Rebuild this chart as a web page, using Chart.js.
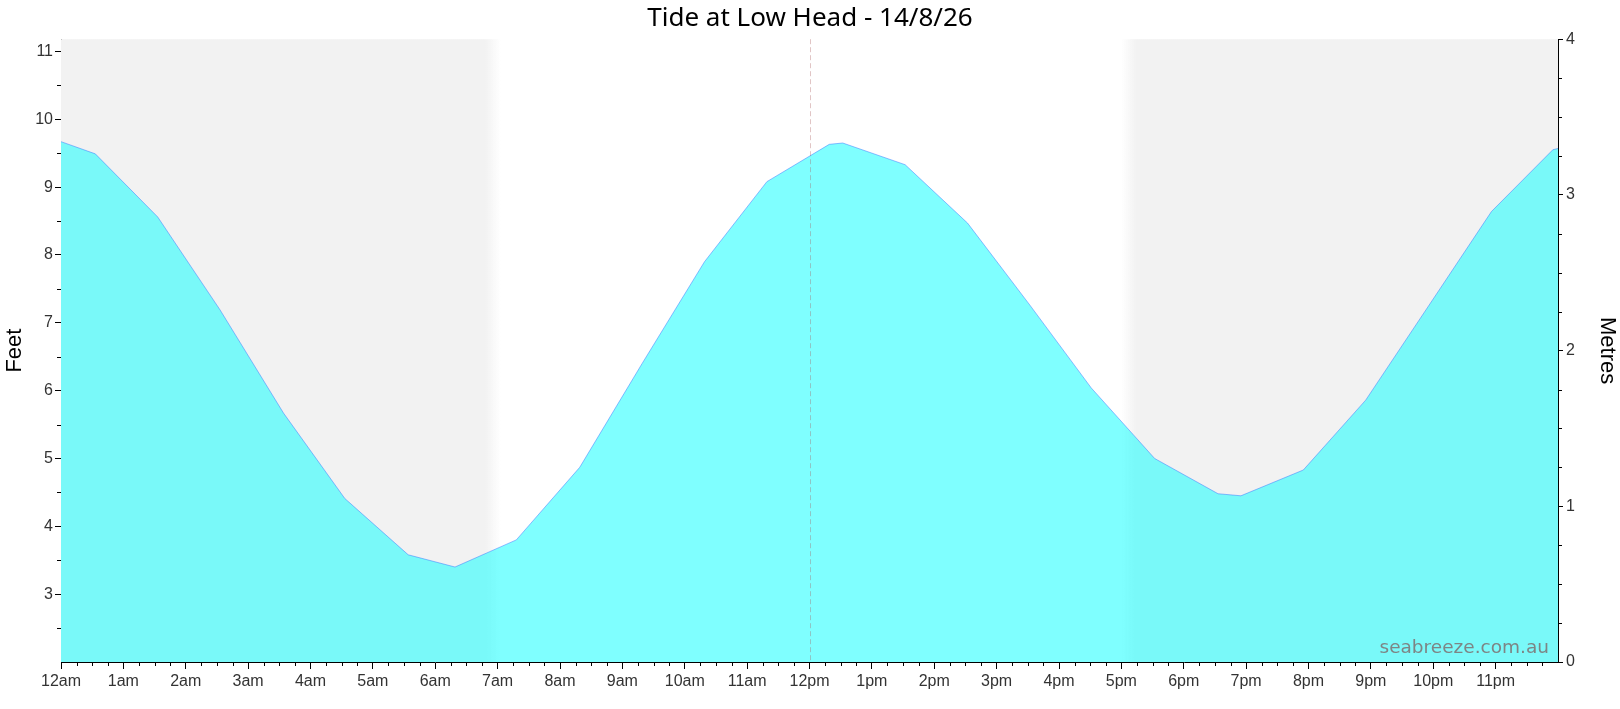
<!DOCTYPE html>
<html>
<head>
<meta charset="utf-8">
<title>Tide at Low Head</title>
<script src="https://cdn.jsdelivr.net/npm/chart.js@4.4.1/dist/chart.umd.min.js"></script>
<style>
  html, body { margin: 0; padding: 0; background: #fff; }
  #wrap { width: 1620px; height: 709px; position: relative; }
</style>
</head>
<body>
<div id="wrap"><canvas id="tide-chart"></canvas></div>
<script>
const chartTitle = "Tide at Low Head - 14/8/26";

// tide curve (local time, height in feet)
const tideTimes = [
  "0:00", "0:33", "1:33", "2:33", "3:34", "4:33", "5:34", "6:19",
  "7:18", "8:19", "9:19", "10:19", "11:19", "12:19", "12:32", "13:32",
  "14:32", "15:32", "16:31", "17:32", "18:33", "18:55", "19:55", "20:55",
  "21:56", "22:56", "23:55", "24:00"
];
const tideFeet = [
  9.67, 9.49, 8.56, 7.19, 5.67, 4.41, 3.58, 3.40,
  3.80, 4.87, 6.40, 7.90, 9.08, 9.63, 9.65, 9.33,
  8.47, 7.26, 6.04, 5.00, 4.48, 4.45, 4.83, 5.86,
  7.26, 8.64, 9.55, 9.57
];

const hourLabels = [
  "12am", "1am", "2am", "3am", "4am", "5am", "6am", "7am", "8am", "9am", "10am", "11am",
  "12pm", "1pm", "2pm", "3pm", "4pm", "5pm", "6pm", "7pm", "8pm", "9pm", "10pm", "11pm"
];
const feetTicks = [3, 4, 5, 6, 7, 8, 9, 10, 11];
const metreTicks = [0, 1, 2, 3, 4];

// darkness: [solid until, faded out by] in the morning, [fade from, solid from] at night
const morningDark = ["6:48", "7:03"];
const eveningDark = ["17:00", "17:14"];
const nowTime = "12:00";

function toHours(t) {
  const p = t.split(":");
  return +p[0] + (+p[1]) / 60;
}

const tickFont = { family: "'Liberation Sans', Arial, sans-serif", size: 16 };
const titleFont = { family: "'Noto Sans', 'Liberation Sans', sans-serif", size: 26, weight: "normal" };
const axisTitleFont = { family: "'Liberation Sans', Arial, sans-serif", size: 22, weight: "normal" };

const NIGHT = "#f2f2f2";

const nightShade = {
  id: "nightShade",
  beforeDatasetsDraw(chart) {
    const { ctx, chartArea: a, scales: { x } } = chart;
    const m0 = x.getPixelForValue(toHours(morningDark[0]));
    const m1 = x.getPixelForValue(toHours(morningDark[1]));
    const e0 = x.getPixelForValue(toHours(eveningDark[0]));
    const e1 = x.getPixelForValue(toHours(eveningDark[1]));
    ctx.save();
    let g = ctx.createLinearGradient(a.left, 0, m1, 0);
    g.addColorStop(0, NIGHT);
    g.addColorStop((m0 - a.left) / (m1 - a.left), NIGHT);
    g.addColorStop(1, "rgba(242,242,242,0)");
    ctx.fillStyle = g;
    ctx.fillRect(a.left, a.top, m1 - a.left, a.bottom - a.top);
    g = ctx.createLinearGradient(e0, 0, a.right, 0);
    g.addColorStop(0, "rgba(242,242,242,0)");
    g.addColorStop((e1 - e0) / (a.right - e0), NIGHT);
    g.addColorStop(1, NIGHT);
    ctx.fillStyle = g;
    ctx.fillRect(e0, a.top, a.right - e0, a.bottom - a.top);
    ctx.restore();
  }
};

const extras = {
  id: "extras",
  afterDatasetsDraw(chart) {
    const { ctx, chartArea: a, scales: { x } } = chart;
    // current time marker
    const nx = Math.round(x.getPixelForValue(toHours(nowTime))) + 0.5;
    ctx.save();
    ctx.strokeStyle = "rgba(170,90,90,0.35)";
    ctx.lineWidth = 1;
    ctx.setLineDash([5, 3]);
    ctx.beginPath();
    ctx.moveTo(nx, a.top);
    ctx.lineTo(nx, a.bottom);
    ctx.stroke();
    ctx.restore();

    // watermark
    ctx.save();
    ctx.font = "18.5px 'DejaVu Sans', Verdana, sans-serif";
    ctx.fillStyle = "#7d8585";
    ctx.textAlign = "right";
    ctx.textBaseline = "alphabetic";
    ctx.fillText("seabreeze.com.au", a.right - 9, a.bottom - 9);
    ctx.restore();
  },
  afterDraw(chart) {
    // minor tick marks
    const { ctx, chartArea: a, scales: { x, y, y2 } } = chart;
    ctx.save();
    ctx.strokeStyle = "#000";
    ctx.lineWidth = 1;
    ctx.beginPath();
    for (let q = 1; q < 96; q++) {
      if (q % 4 === 0) continue;
      const px = Math.round(x.getPixelForValue(q / 4)) + 0.5;
      ctx.moveTo(px, a.bottom);
      ctx.lineTo(px, a.bottom + 4);
    }
    for (let v = 2.5; v < y.max; v += 1) {
      const py = Math.round(y.getPixelForValue(v)) + 0.5;
      ctx.moveTo(a.left, py);
      ctx.lineTo(a.left - 4, py);
    }
    for (let q = 1; q < 16; q++) {
      if (q % 4 === 0) continue;
      const py = Math.round(y2.getPixelForValue(q / 4)) + 0.5;
      ctx.moveTo(a.right, py);
      ctx.lineTo(a.right + 4, py);
    }
    ctx.stroke();
    ctx.restore();
  }
};

const data = {
  datasets: [
    {
      data: tideTimes.map((t, i) => ({ x: toHours(t), y: tideFeet[i] })),
      yAxisID: "y",
      fill: "start",
      backgroundColor: "rgba(0,255,255,0.5)",
      borderColor: "rgba(60,120,255,0.5)",
      borderWidth: 1,
      pointRadius: 0,
      tension: 0,
    },
  ],
};

const config = {
  type: "line",
  data: data,
  plugins: [nightShade, extras],
  options: {
    responsive: true,
    maintainAspectRatio: false,
    animation: false,
    layout: { padding: 0 },
    plugins: {
      legend: { display: false },
      tooltip: { enabled: false },
      title: {
        display: true,
        text: chartTitle,
        color: "#000",
        font: titleFont,
        padding: { top: 3, bottom: 5 },
      },
    },
    scales: {
      x: {
        type: "linear",
        min: 0,
        max: 24,
        afterBuildTicks: (s) => { s.ticks = hourLabels.map((l, i) => ({ value: i })); },
        afterFit: (s) => { s.height = 47; },
        ticks: {
          autoSkip: false,
          maxRotation: 0,
          color: "#333",
          font: tickFont,
          padding: 3,
          callback: (v, i) => hourLabels[i],
        },
        grid: { drawOnChartArea: false, tickLength: 7, tickColor: "#000" },
        border: { color: "#000" },
      },
      y: {
        position: "left",
        min: 2,
        max: 11.18,
        afterBuildTicks: (s) => { s.ticks = feetTicks.map((v) => ({ value: v })); },
        afterFit: (s) => { s.width = 61; },
        ticks: { color: "#333", font: tickFont, padding: 2 },
        grid: { drawOnChartArea: false, tickLength: 6, tickColor: "#000" },
        border: { color: "#000" },
        title: { display: true, text: "Feet", color: "#000", font: axisTitleFont, padding: { top: 2, bottom: 0 } },
      },
      y2: {
        position: "right",
        min: 0,
        max: 4,
        afterBuildTicks: (s) => { s.ticks = metreTicks.map((v) => ({ value: v })); },
        afterFit: (s) => { s.width = 62; },
        ticks: { color: "#333", font: tickFont, padding: 3 },
        grid: { drawOnChartArea: false, tickLength: 5, tickColor: "#000" },
        border: { color: "#000" },
        title: { display: true, text: "Metres", color: "#000", font: axisTitleFont, padding: { top: 0, bottom: 4 } },
      },
    },
  },
};

const myChart = new Chart(document.getElementById("tide-chart"), config);
</script>
</body>
</html>
